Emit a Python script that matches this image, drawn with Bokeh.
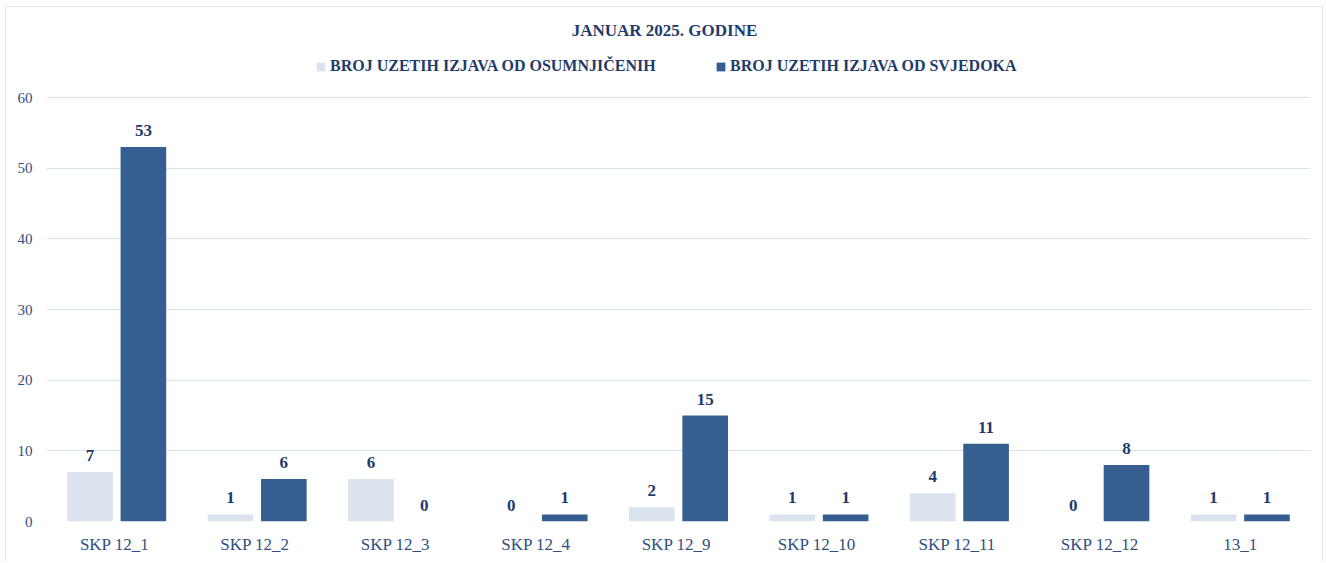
from bokeh.plotting import figure
from bokeh.models import ColumnDataSource, FactorRange, Range1d, LabelSet, Label, Legend, LegendItem
from bokeh.transform import dodge
from bokeh.embed import file_html
from bokeh.resources import INLINE

categories = ["SKP  12_1", "SKP  12_2", "SKP  12_3", "SKP  12_4", "SKP  12_9",
              "SKP  12_10", "SKP  12_11", "SKP 12_12", "13_1"]
osumnjicenih = [7, 1, 6, 0, 2, 1, 4, 0, 1]
svjedoka = [53, 6, 0, 1, 15, 1, 11, 8, 1]
series_names = ["BROJ UZETIH IZJAVA OD OSUMNJIČENIH", "BROJ UZETIH IZJAVA OD SVJEDOKA"]
chart_title = "JANUAR 2025. GODINE"
y_ticks = [0, 10, 20, 30, 40, 50, 60]

FONT = "Liberation Serif"
TXT = "#1f3b6b"
LIGHT = "#dbe3ee"
DARK = "#355f91"

src = ColumnDataSource(dict(
    cat=categories,
    a=osumnjicenih,
    b=svjedoka,
    a_txt=[str(v) for v in osumnjicenih],
    b_txt=[str(v) for v in svjedoka],
))

# frame extends above the value axis so that title and legend sit inside it
px_per_unit = (521 - 97) / 60.0
y_top = 60 + (97 - 7) / px_per_unit

p = figure(x_range=FactorRange(*categories), y_range=Range1d(0, y_top),
           width=1318, height=555, output_backend="svg", toolbar_location=None,
           min_border_left=40, min_border_right=14, min_border_top=0, min_border_bottom=41)
p.margin = (6, 0, 0, 5)
p.styles = {"border": "1px solid #dce5f0", "border-bottom": "none"}
p.outline_line_color = None
p.background_fill_color = "white"
p.border_fill_color = "white"

ra = p.vbar(x=dodge("cat", -0.19, range=p.x_range), top="a", width=0.325, source=src,
            fill_color=LIGHT, line_color=None)
rb = p.vbar(x=dodge("cat", 0.19, range=p.x_range), top="b", width=0.325, source=src,
            fill_color=DARK, line_color=None)

for col, off, txt in (("a", -0.19, "a_txt"), ("b", 0.19, "b_txt")):
    lbl = LabelSet(x=dodge("cat", off, range=p.x_range), y=col, text=txt, source=src,
                   y_offset=11, text_align="center", text_baseline="bottom",
                   text_font=FONT, text_font_style="bold", text_font_size="17px",
                   text_color=TXT)
    p.add_layout(lbl)

p.add_layout(Label(x=618, y=60 + (97 - 30) / px_per_unit, x_units="screen", y_units="data",
                   text=chart_title, text_align="center", text_baseline="middle",
                   text_font=FONT, text_font_style="bold", text_font_size="17px",
                   text_color=TXT))

for x_left, rend, name in ((269, ra, series_names[0]), (669, rb, series_names[1])):
    lg = Legend(items=[LegendItem(label=name, renderers=[rend])],
                location=(x_left, 445), orientation="horizontal",
                label_text_font=FONT, label_text_font_style="bold",
                label_text_font_size="16px", label_text_color=TXT,
                glyph_width=11, glyph_height=11, label_height=20, label_standoff=4,
                border_line_color=None, background_fill_alpha=0, padding=0, margin=0)
    p.add_layout(lg)

p.xgrid.grid_line_color = None
p.ygrid.grid_line_color = "#d9e2ef"
p.ygrid.grid_line_width = 1
p.yaxis.ticker = y_ticks
p.yaxis.axis_line_color = None
p.yaxis.major_tick_line_color = None
p.yaxis.minor_tick_line_color = None
p.yaxis.major_label_text_font = FONT
p.yaxis.major_label_text_font_size = "15px"
p.yaxis.major_label_text_color = "#2f4f7f"
p.yaxis.major_label_standoff = 8

p.xaxis.axis_line_color = None
p.xaxis.major_tick_line_color = None
p.xaxis.major_label_text_font = FONT
p.xaxis.major_label_text_font_size = "17px"
p.xaxis.major_label_text_color = "#2f4f7f"
p.xaxis.major_label_standoff = 7
p.x_range.range_padding = 0
p.x_range.group_padding = 0

open("out.html", "w").write(file_html(p, INLINE))
